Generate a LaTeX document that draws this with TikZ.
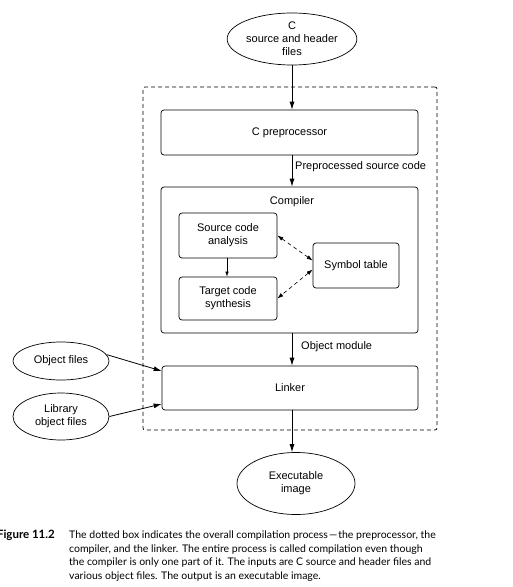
\documentclass[tikz,border=0pt]{standalone}
\usepackage{fontspec}
\setmainfont{Liberation Sans}
\newfontfamily\capfont{Lato}
\usetikzlibrary{shapes.geometric,arrows.meta}
\begin{document}
\begin{tikzpicture}[x=1bp,y=-1bp,
  every node/.style={font=\fontsize{11bp}{13bp}\selectfont, inner sep=0pt},
  procbox/.style={draw, rounded corners=3bp, line width=0.7bp, align=center},
  blob/.style={draw, ellipse, line width=0.7bp, align=center},
  arr/.style={-{Latex[length=8bp,width=5bp]}, line width=0.8bp},
  thinarr/.style={-{Latex[length=5bp,width=3.5bp]}, line width=0.6bp},
  dasharr/.style={{Latex[length=6bp,width=4bp]}-{Latex[length=6bp,width=4bp]}, dash pattern=on 4bp off 3bp, line width=0.6bp},
  lbl/.style={anchor=west},
  captext/.style={font=\capfont\fontsize{10.5bp}{13bp}\selectfont, anchor=base west},
  capnum/.style={font=\capfont\bfseries\fontsize{11.5bp}{13bp}\selectfont, anchor=base east}
]
\useasboundingbox (0,0) rectangle (513,587);
\clip (0,0) rectangle (513,587);

% dashed overall box
\node[draw, line width=0.7bp, rounded corners=2bp, dash pattern=on 4bp off 3bp,
      minimum width=294bp, minimum height=343bp] (process) at (290,258.5) {};

% nodes
\node[blob, minimum width=120bp, minimum height=52bp] (src) at (292,39) {C\\source and header\\files};
\node[procbox, minimum width=257bp, minimum height=45bp] (pre) at (289.5,132.5) {C preprocessor};
\node[procbox, minimum width=257bp, minimum height=146bp] (comp) at (289.5,260) {};
\node (complbl) at (292,202) {Compiler};
\node[procbox, minimum width=98bp, minimum height=45bp] (sca) at (228,235.5) {Source code\\analysis};
\node[procbox, minimum width=98bp, minimum height=43bp] (tcs) at (228,298.5) {Target code\\synthesis};
\node[procbox, minimum width=86bp, minimum height=45bp] (sym) at (356,265.5) {Symbol table};
\node[procbox, minimum width=256bp, minimum height=44bp] (linker) at (290,388) {Linker};
\node[blob, minimum width=96bp, minimum height=38bp] (objf) at (61,361) {Object files};
\node[blob, minimum width=96bp, minimum height=47bp] (libf) at (61,416.5) {Library\\object files};
\node[blob, minimum width=118bp, minimum height=62bp] (exe) at (296,483.5) {Executable\\image};

% connectors
\draw[arr] (src.south) -- (src.south |- pre.north);
\draw[arr] (pre.south -| src) -- (comp.north -| src);
\node[lbl] (pslbl) at (295,167) {Preprocessed source code};
\draw[arr] (comp.south -| src) -- (linker.north -| src);
\node[lbl] (omlbl) at (301,347) {Object module};
\draw[arr] (linker.south -| src) -- (exe.north -| src);
\draw[thinarr] (sca.south -| 227,0) -- (tcs.north -| 227,0);
\draw[dasharr] (sca.east) -- ([yshift=5bp]sym.west);
\draw[dasharr] ([yshift=-4bp]sym.west) -- (tcs.east);
\draw[arr] (objf.8) -- ([yshift=17bp]linker.west);
\draw[arr] (libf.east) -- ([yshift=-16bp]linker.west);

% caption
\node[capnum] (fignum) at (55,538) {Figure 11.2};
\node[captext] (cap1) at (69,538) {The dotted box indicates the overall compilation process\kern1bp—\kern1bp the preprocessor, the};
\node[captext] (cap2) at (69,552) {compiler, and the linker. The entire process is called compilation even though};
\node[captext] (cap3) at (69,565.5) {the compiler is only one part of it. The inputs are C source and header files and};
\node[captext] (cap4) at (69,579) {various object files. The output is an executable image.};
\end{tikzpicture}
\end{document}
